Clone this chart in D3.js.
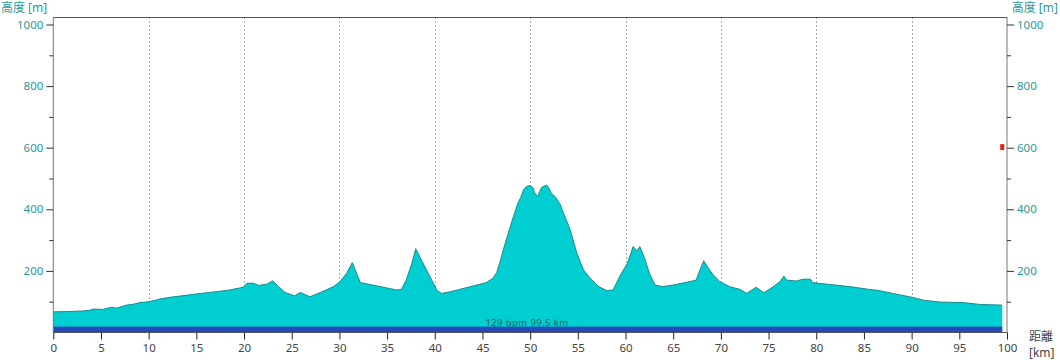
<!DOCTYPE html>
<html>
<head>
<meta charset="utf-8">
<script src="https://cdn.jsdelivr.net/npm/d3@7"></script>
<style>
  body { margin: 0; background: #fff; }
  svg { display: block; }
  text { font-family: "Noto Sans", "Noto Sans CJK JP", sans-serif; }
</style>
</head>
<body>
<script>
// distance along the route [km]
const distKm = [0, 1.5, 3.1, 3.8, 4.2, 5.2, 6.1, 6.6, 7.7, 8.4, 9.1, 10.0, 10.6, 11.2, 12.6, 13.5, 14.7, 15.5, 16.4, 17.5, 18.5, 19.9,
  20.3, 21.0, 21.5, 22.4, 23.0, 23.6, 24.3, 25.3, 25.9, 26.9, 28.0, 29.4, 30.05, 30.75, 31.35, 31.8, 32.2, 33.5, 34.9, 36.0,
  36.5, 37.0, 37.6, 38.0, 38.6, 39.5, 40.2, 40.7, 41.6, 42.6, 44.0, 45.4, 46.1, 46.5, 46.8, 47.2, 47.7, 48.2, 48.7, 49.0,
  49.3, 49.6, 50.0, 50.3, 50.45, 50.8, 51.0, 51.2, 51.7, 51.95, 52.2, 52.6, 53.1, 53.6, 54.2, 54.9, 55.6, 56.3, 57.1, 58.0,
  58.7, 59.4, 60.2, 60.8, 61.0, 61.2, 61.5, 62.0, 62.5, 63.1, 63.9, 65.0, 66.4, 67.4, 67.8, 68.2, 68.7, 69.2, 69.9, 70.9,
  72.0, 72.7, 73.7, 74.5, 75.5, 76.2, 76.6, 76.9, 77.9, 78.6, 79.4, 79.6, 81.4, 83.5, 85.3, 86.6, 88.0, 90.1, 91.2, 92.9,
  95.4, 97.2, 99.4, 99.5];
// elevation [m]
const elevM = [67, 68, 70, 72, 76, 75, 82, 79, 89, 92, 97, 100, 104, 109, 116, 119, 124, 127, 130, 134, 138, 147,
  160, 160, 153, 157, 168, 149, 130, 119, 130, 116, 130, 149, 165, 192, 227, 192, 162, 154, 145, 138,
  140, 170, 225, 272, 235, 181, 138, 127, 132, 140, 151, 162, 176, 195, 225, 270, 322, 372, 419, 438,
  463, 474, 477, 470, 455, 441, 458, 471, 479, 470, 452, 442, 419, 380, 333, 257, 203, 176, 151, 136,
  138, 183, 225, 279, 272, 265, 279, 241, 192, 154, 149, 154, 163, 170, 203, 233, 208, 187, 165, 149,
  140, 127, 147, 129, 149, 165, 183, 170, 167, 173, 173, 162, 156, 149, 141, 136, 127, 114, 105, 99,
  97, 91, 89, 89];
const xTicks = d3.range(0, 101, 5);
const gridKm = d3.range(10, 100, 10);
const yMajor = [200, 400, 600, 800, 1000];
const yMinor = [100, 300, 500, 700, 900];
const bandTop = 19;
const marker = { km: 99.5, m: 602 };
const infoText = "129 bpm 99.5 km";

const W = 1060, H = 360;
const pLeft = 53.3, pRight = 1007, pTop = 17, pBottom = 332.5;

const x = d3.scaleLinear().domain([0, 100]).range([pLeft, pRight]);
const y = d3.scaleLinear().domain([0, 1000]).range([pBottom, 24.5]);

const svg = d3.select("body").append("svg").attr("width", W).attr("height", H);

// vertical dotted grid
svg.append("g").selectAll("line").data(gridKm).join("line")
  .attr("x1", d => Math.round(x(d)) + 0.5).attr("x2", d => Math.round(x(d)) + 0.5)
  .attr("y1", pTop).attr("y2", pBottom)
  .attr("stroke", "#aaa").attr("stroke-dasharray", "2,2").attr("stroke-width", 1);

const pts = distKm.map((d, i) => [d, elevM[i]]);
const area = d3.area().x(d => x(d[0])).y0(y(0)).y1(d => y(d[1]));
svg.append("path").datum(pts).attr("d", area).attr("fill", "#00CED1");
svg.append("path").datum(pts)
  .attr("d", d3.line().x(d => x(d[0])).y(d => y(d[1])))
  .attr("fill", "none").attr("stroke", "#1a8a8c").attr("stroke-width", 1);

// blue band along the bottom
svg.append("rect")
  .attr("x", x(0)).attr("y", y(bandTop))
  .attr("width", x(distKm[distKm.length - 1]) - x(0)).attr("height", y(0) - y(bandTop))
  .attr("fill", "#2448b8");

svg.append("text")
  .attr("x", 527).attr("y", 326)
  .attr("text-anchor", "middle").attr("font-size", 9.5).attr("letter-spacing", 0.4)
  .attr("fill", "#2e5a5a").text(infoText);

// frame
svg.append("line").attr("x1", pLeft).attr("x2", pRight).attr("y1", pTop + 0.5).attr("y2", pTop + 0.5)
  .attr("stroke", "#555");

const tickColor = "#2a9a9a";
function yAxis(gen, tx) {
  const g = svg.append("g").attr("transform", `translate(${tx},0)`);
  g.call(gen.tickValues(yMajor).tickSize(7).tickFormat(d3.format("d")));
  g.select(".domain").attr("d", `M0,${pTop}V${pBottom}`).attr("stroke", "#777");
  g.selectAll(".tick line").attr("stroke", "#333");
  g.selectAll(".tick text").attr("fill", tickColor).attr("font-size", 11.5);
  const m = svg.append("g").attr("transform", `translate(${tx},0)`);
  m.call(gen.tickValues(yMinor).tickSize(4).tickFormat(""));
  m.select(".domain").remove();
  m.selectAll(".tick line").attr("stroke", "#333");
}
yAxis(d3.axisLeft(y), pLeft);
yAxis(d3.axisRight(y), pRight);

const xa = svg.append("g").attr("transform", `translate(0,${pBottom})`)
  .call(d3.axisBottom(x).tickValues(xTicks).tickSize(7).tickPadding(4));
xa.select(".domain").attr("d", `M${pLeft},0H${pRight}`).attr("stroke", "#555");
xa.selectAll(".tick line").attr("stroke", "#222");
xa.selectAll(".tick text").attr("fill", "#444").attr("font-size", 11.5);

// position marker
svg.append("rect")
  .attr("x", x(marker.km) - 2).attr("y", y(marker.m) - 3)
  .attr("width", 4).attr("height", 6).attr("fill", "#e8201c");

// axis titles
const jp = "'Noto Sans CJK JP', sans-serif";
svg.append("text").attr("x", 1).attr("y", 12).attr("font-size", 12).attr("font-family", jp)
  .attr("fill", tickColor).text("高度 [m]");
svg.append("text").attr("x", W - 2).attr("y", 12).attr("text-anchor", "end").attr("font-size", 12)
  .attr("font-family", jp).attr("fill", tickColor).text("高度 [m]");
svg.append("text").attr("x", 1029).attr("y", 341).attr("font-size", 12).attr("font-family", jp)
  .attr("fill", "#444").text("距離");
svg.append("text").attr("x", 1029).attr("y", 357).attr("font-size", 12).attr("font-family", jp)
  .attr("fill", "#444").text("[km]");
</script>
</body>
</html>
